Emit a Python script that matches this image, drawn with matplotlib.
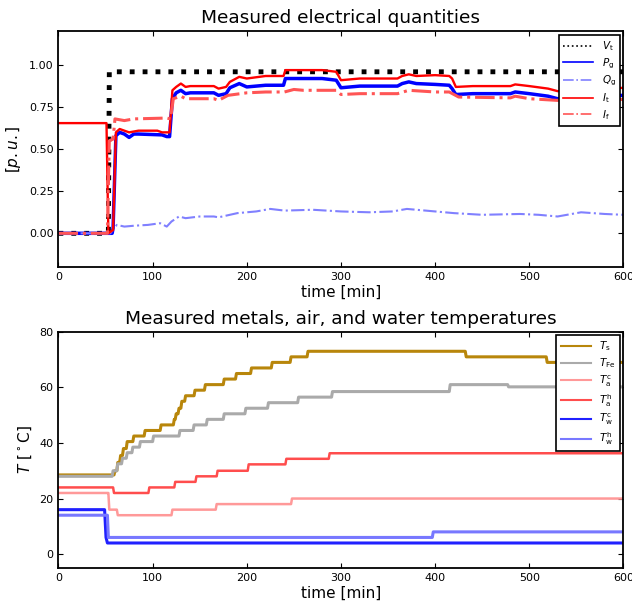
import numpy as np
import matplotlib
matplotlib.use("Agg")
import matplotlib.pyplot as plt

plt.rcParams['xtick.direction'] = 'in'
plt.rcParams['ytick.direction'] = 'in'
plt.rcParams['xtick.top'] = True
plt.rcParams['ytick.right'] = True
plt.rcParams['axes.linewidth'] = 1.3
plt.rcParams['font.size'] = 8
plt.rcParams['mathtext.fontset'] = 'dejavusans'

# electrical quantities (time in min, value in p.u.)
t_vt = [0, 53, 54, 600]
vt = [0.0, 0.0, 0.96, 0.96]

t_pg = [0, 57, 58, 61, 65, 70, 75, 80, 85, 110, 115, 118, 121, 125, 130, 135, 140, 165, 170, 178,
        182, 192, 200, 220, 239, 241, 260, 280, 295, 300, 320, 360, 365, 372, 380, 400, 415, 418, 422,
        440, 480, 485, 500, 520, 530, 550, 600]
pg = [0.0, 0.0, 0.03, 0.58, 0.6, 0.59, 0.57, 0.59, 0.59, 0.585, 0.575, 0.575, 0.8, 0.835, 0.85, 0.83,
      0.835, 0.835, 0.82, 0.83, 0.865, 0.89, 0.87, 0.88, 0.88, 0.92, 0.92, 0.92, 0.91, 0.865, 0.875,
      0.875, 0.89, 0.90, 0.89, 0.885, 0.88, 0.86, 0.825, 0.83, 0.83, 0.84, 0.83, 0.815, 0.80, 0.81, 0.82]

t_qg = [0, 55, 62, 70, 80, 95, 108, 115, 120, 128, 135, 150, 165, 170, 190, 210, 225, 240, 270,
        300, 330, 355, 370, 400, 420, 450, 490, 510, 530, 555, 580, 600]
qg = [0.0, 0.0, 0.05, 0.04, 0.045, 0.05, 0.06, 0.04, 0.07, 0.1, 0.09, 0.1, 0.1, 0.095, 0.12, 0.13,
      0.145, 0.135, 0.14, 0.13, 0.125, 0.13, 0.145, 0.13, 0.12, 0.11, 0.115, 0.11, 0.1, 0.125, 0.115, 0.11]

t_it = [0, 51, 53, 58, 61, 65, 70, 75, 85, 105, 110, 118, 121, 125, 130, 135, 140, 165, 170, 178,
        182, 192, 200, 220, 239, 241, 260, 280, 295, 300, 320, 360, 365, 372, 380, 400, 415, 418, 422,
        440, 480, 485, 500, 520, 530, 560, 600]
it = [0.655, 0.655, 0.0, 0.02, 0.6, 0.62, 0.61, 0.6, 0.61, 0.61, 0.6, 0.6, 0.85, 0.87, 0.89, 0.87, 0.875,
      0.875, 0.86, 0.87, 0.9, 0.93, 0.92, 0.935, 0.935, 0.97, 0.97, 0.97, 0.96, 0.91, 0.92, 0.92, 0.935,
      0.945, 0.935, 0.94, 0.935, 0.92, 0.87, 0.875, 0.875, 0.885, 0.875, 0.86, 0.845, 0.85, 0.865]

t_if = [0, 52, 54, 58, 60, 70, 80, 115, 119, 122, 130, 135, 165, 170, 180, 200, 220, 240, 250, 260, 295,
        300, 320, 360, 372, 400, 415, 425, 480, 485, 500, 530, 560, 600]
i_f = [0.0, 0.0, 0.55, 0.56, 0.68, 0.67, 0.68, 0.685, 0.68, 0.8, 0.815, 0.8, 0.8, 0.79, 0.82, 0.835, 0.84,
       0.84, 0.855, 0.85, 0.85, 0.825, 0.83, 0.83, 0.85, 0.84, 0.84, 0.81, 0.805, 0.815, 0.80, 0.79, 0.80, 0.795]

# temperatures (value holds from each time until the next, time in min, value in deg C)
t_ts = [0, 59, 62, 65, 68, 72, 79, 91, 108, 122, 124, 127, 130, 134, 144, 155, 175, 188, 204,
        226, 246, 264, 432, 518, 600]
ts = [28.5, 30, 33, 35.5, 38, 40.5, 42.5, 44.5, 46.5, 48.5, 50.5, 52.5, 55, 57, 59, 61, 63, 65, 67,
      69, 71, 73, 71, 69, 69]

t_fe = [0, 57, 62, 67, 72, 78, 86, 100, 128, 143, 157, 175, 198, 222, 254, 290, 415, 477, 600]
tfe = [28, 30, 32.5, 34.5, 36.5, 38.5, 40.5, 42.5, 44.5, 46.5, 48.5, 50.5, 52.5, 54.5, 56.5, 58.5,
       61, 60.2, 60.2]

t_tac = [0, 50.5, 53, 60, 62, 120, 167, 247, 600]
tac = [22, 22, 16, 16, 14, 16, 18, 20, 20]

t_tah = [0, 58, 95.5, 123, 145.5, 168, 201, 241, 287, 600]
tah = [24, 22, 24, 26, 28, 30, 32.3, 34.3, 36.3, 36.3]

t_twc = [0, 49, 50.5, 52, 600]
twc = [16, 16, 6, 4, 4]

t_twh = [0, 49, 52, 397, 600]
twh = [14, 14, 6, 8, 8]


def ramp_steps(t, v, ramp):
    # value v[i] holds until t[i+1]; the change takes `ramp` minutes
    xs, ys = [t[0]], [v[0]]
    for i in range(1, len(t)):
        xs += [t[i], t[i] + ramp]
        ys += [v[i - 1], v[i]]
    return xs, ys


fig = plt.figure(figsize=(6.32, 6.04), dpi=100)

ax1 = fig.add_axes([0.0925, 0.558, 0.894, 0.390])
ax1.plot(t_vt, vt, color='black', linestyle=':', linewidth=3.5, label=r'$V_\mathrm{t}$')
ax1.plot(t_pg, pg, color='#0000ff', linewidth=2.5, label=r'$P_\mathrm{g}$')
ax1.plot(t_qg, qg, color='#8080ff', linestyle='-.', linewidth=1.5, label=r'$Q_\mathrm{g}$')
ax1.plot(t_it, it, color='#ff0000', linewidth=1.7, label=r'$I_\mathrm{t}$')
ax1.plot(t_if, i_f, color='#ff5555', linestyle='-.', linewidth=2.2, label=r'$I_\mathrm{f}$')
ax1.set_xlim(0, 600)
ax1.set_ylim(-0.2, 1.2)
ax1.set_yticks([0.0, 0.25, 0.5, 0.75, 1.0])
ax1.set_yticklabels(['0.00', '0.25', '0.50', '0.75', '1.00'])
ax1.set_xlabel('time [min]', fontsize=11, labelpad=2)
ax1.set_ylabel(r'[$p.u.$]', fontsize=11)
ax1.set_title('Measured electrical quantities', fontsize=13.3)
leg1 = ax1.legend(loc='upper right', fontsize=7.5, fancybox=False, framealpha=1, edgecolor='black',
                  handlelength=2.9, labelspacing=0.3, borderaxespad=0.35)
leg1.get_frame().set_linewidth(1.2)
for h in leg1.get_lines():
    h.set_linewidth(1.2)

ax2 = fig.add_axes([0.0925, 0.0596, 0.894, 0.391])
ax2.plot(*ramp_steps(t_ts, ts, 1), color='#b8860b', linewidth=2.2, label=r'$T_\mathrm{s}$')
ax2.plot(*ramp_steps(t_fe, tfe, 1), color='#aaaaaa', linewidth=2.2, label=r'$T_\mathrm{Fe}$')
ax2.plot(*ramp_steps(t_tac, tac, 1), color='#ff9999', linewidth=1.8, label=r'$T_\mathrm{a}^\mathrm{c}$')
ax2.plot(*ramp_steps(t_tah, tah, 1), color='#ff4d4d', linewidth=1.8, label=r'$T_\mathrm{a}^\mathrm{h}$')
ax2.plot(t_twc, twc, color='#2020ff', linewidth=2.2, label=r'$T_\mathrm{w}^\mathrm{c}$')
ax2.plot(*ramp_steps(t_twh, twh, 1), color='#7878ff', linewidth=2.2, label=r'$T_\mathrm{w}^\mathrm{h}$')
ax2.set_xlim(0, 600)
ax2.set_ylim(-5, 80)
ax2.set_yticks([0, 20, 40, 60, 80])
ax2.set_xlabel('time [min]', fontsize=11, labelpad=2)
ax2.set_ylabel(r'$T$ [$^\circ$C]', fontsize=11)
ax2.set_title('Measured metals, air, and water temperatures', fontsize=13.3)
leg2 = ax2.legend(loc='upper right', fontsize=7.5, fancybox=False, framealpha=1, edgecolor='black',
                  handlelength=2.9, labelspacing=0.3, borderaxespad=0.35)
leg2.get_frame().set_linewidth(1.2)
for h in leg2.get_lines():
    h.set_linewidth(1.5)

fig.savefig('out.png', dpi=100)
